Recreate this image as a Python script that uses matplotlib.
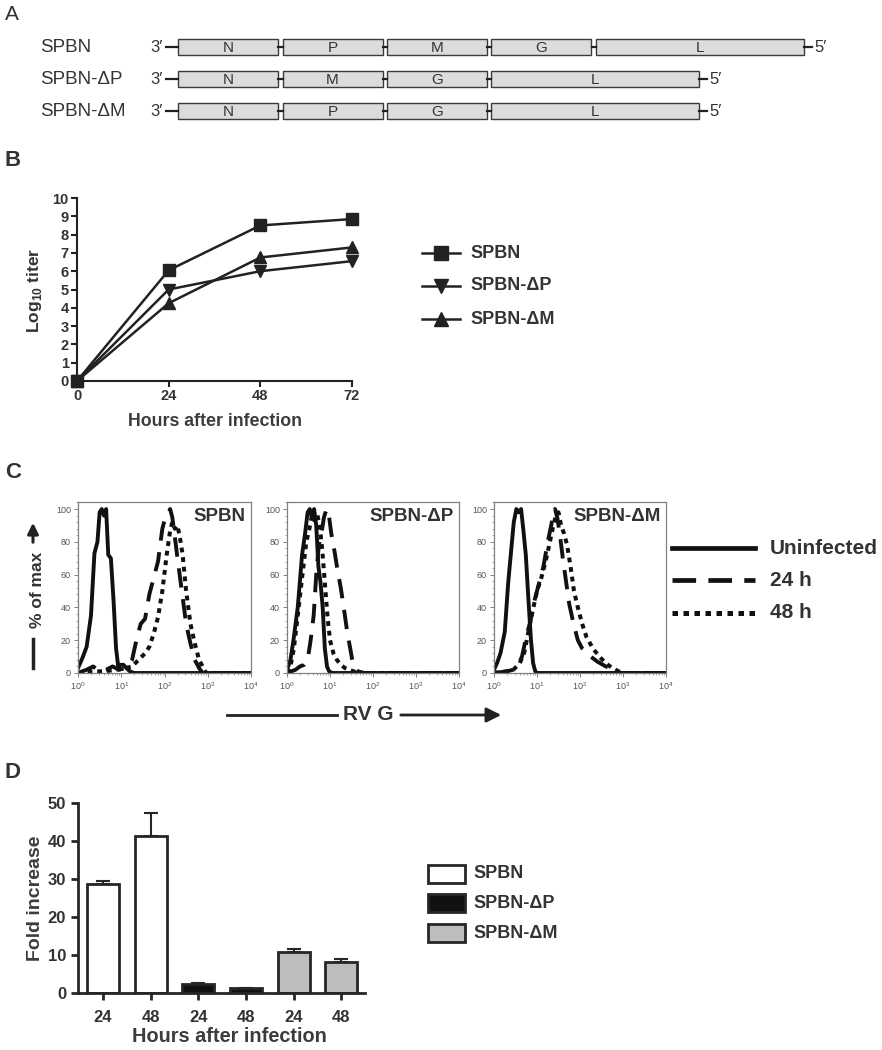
"""Rebuild the four-panel SPBN figure (genome maps, growth curves,
flow histograms and fold-increase bars) as a single PNG."""

import numpy as np
import matplotlib.pyplot as plt
from matplotlib.patches import Rectangle
from matplotlib.ticker import AutoMinorLocator

plt.rcParams['font.family'] = ['Liberation Sans', 'DejaVu Sans']
plt.rcParams['mathtext.fontset'] = 'custom'
plt.rcParams['mathtext.rm'] = 'Liberation Sans'
plt.rcParams['mathtext.bf'] = 'Liberation Sans:bold'

W, H = 882, 1050
INK = '#222222'
TXT = '#333333'

# ---- panel A: genome organisation
constructs = ['SPBN', 'SPBN-\u0394P', 'SPBN-\u0394M']
gene_orders = [['N', 'P', 'M', 'G', 'L'],
               ['N', 'M', 'G', 'L'],
               ['N', 'P', 'G', 'L']]
gene_lengths = {'N': 1.0, 'P': 1.0, 'M': 1.0, 'G': 1.0, 'L': 2.08}

# ---- panel B: growth curves
hours = [0, 24, 48, 72]
titer_spbn = [0, 6.05, 8.5, 8.85]
titer_dp = [0, 5.0, 6.0, 6.55]
titer_dm = [0, 4.25, 6.75, 7.3]

# ---- panel C: flow histograms (log10 fluorescence, % of max)
c1_uninf_x = [0.0, 0.1, 0.2, 0.3, 0.38, 0.45, 0.5, 0.55, 0.6, 0.65, 0.7, 0.76,
              0.82, 0.88, 0.93, 0.98, 1.05, 1.12, 1.2, 1.3, 4.0]
c1_uninf_y = [3, 9, 16, 35, 73, 80, 98, 100, 96, 100, 72, 70, 45, 15, 4, 5, 5,
              3, 1, 0, 0]
c1_24h_x = [0.0, 0.2, 0.35, 0.5, 0.65, 0.8, 0.95, 1.1, 1.25, 1.35, 1.45, 1.55,
            1.65, 1.75, 1.85, 1.95, 2.02, 2.08, 2.13, 2.18, 2.23, 2.3, 2.4,
            2.5, 2.6, 2.7, 2.8, 2.88, 4.0]
c1_24h_y = [0, 2, 4, 1, 2, 4, 2, 3, 8, 20, 30, 33, 48, 58, 68, 88, 95, 97, 100,
            95, 85, 70, 50, 30, 18, 8, 3, 0, 0]
c1_48h_x = [0.0, 0.3, 0.6, 0.9, 1.1, 1.25, 1.4, 1.55, 1.65, 1.75, 1.85, 1.95,
            2.05, 2.12, 2.18, 2.24, 2.3, 2.36, 2.42, 2.5, 2.6, 2.7, 2.8, 2.9,
            2.96, 4.0]
c1_48h_y = [0, 1, 1, 2, 3, 4, 8, 12, 16, 24, 34, 50, 72, 85, 92, 88, 90, 82,
            72, 50, 30, 18, 8, 3, 0, 0]

c2_uninf_x = [0.0, 0.08, 0.15, 0.25, 0.35, 0.42, 0.48, 0.53, 0.58, 0.63, 0.68,
              0.73, 0.78, 0.83, 0.88, 0.93, 0.98, 1.05, 4.0]
c2_uninf_y = [2, 8, 20, 40, 72, 85, 98, 100, 95, 100, 90, 65, 55, 40, 15, 4, 1,
              0, 0]
c2_24h_x = [0.0, 0.2, 0.3, 0.4, 0.48, 0.55, 0.62, 0.68, 0.74, 0.8, 0.86, 0.92,
            0.97, 1.03, 1.1, 1.18, 1.25, 1.32, 1.4, 1.47, 1.53, 1.58, 1.65,
            1.8, 4.0]
c2_24h_y = [0, 2, 4, 5, 8, 20, 35, 60, 78, 85, 95, 100, 97, 85, 75, 62, 52, 40,
            25, 15, 6, 3, 1, 0, 0]
c2_48h_x = [0.0, 0.08, 0.16, 0.25, 0.35, 0.45, 0.52, 0.58, 0.64, 0.7, 0.76,
            0.82, 0.88, 0.94, 1.0, 1.08, 1.16, 1.25, 1.35, 1.45, 1.55, 1.7, 4.0]
c2_48h_y = [0, 4, 15, 35, 58, 80, 88, 96, 93, 97, 90, 75, 55, 35, 20, 12, 8, 5,
            3, 2, 1, 0, 0]

c3_uninf_x = [0.0, 0.07, 0.15, 0.25, 0.33, 0.4, 0.46, 0.52, 0.58, 0.63, 0.68,
              0.74, 0.8, 0.86, 0.91, 0.96, 1.0, 4.0]
c3_uninf_y = [2, 6, 12, 25, 55, 75, 92, 100, 98, 100, 88, 72, 45, 20, 6, 1, 0, 0]
c3_24h_x = [0.0, 0.3, 0.45, 0.55, 0.65, 0.75, 0.85, 0.95, 1.05, 1.15, 1.25,
            1.33, 1.38, 1.42, 1.47, 1.53, 1.6, 1.68, 1.75, 1.85, 1.95, 2.05,
            2.2, 2.4, 2.6, 2.8, 2.95, 4.0]
c3_24h_y = [0, 1, 2, 4, 10, 22, 32, 45, 55, 65, 80, 90, 97, 100, 95, 85, 70,
            55, 42, 30, 20, 15, 11, 7, 4, 2, 0, 0]
c3_48h_x = [0.0, 0.3, 0.45, 0.6, 0.7, 0.8, 0.9, 1.0, 1.1, 1.2, 1.3, 1.38, 1.45,
            1.5, 1.56, 1.63, 1.7, 1.78, 1.86, 1.95, 2.05, 2.15, 2.3, 2.45, 2.6,
            2.75, 2.9, 3.0, 4.0]
c3_48h_y = [0, 1, 2, 6, 12, 25, 38, 50, 58, 68, 80, 90, 97, 98, 90, 85, 78, 65,
            50, 40, 30, 22, 15, 10, 6, 3, 1, 0, 0]

flow_titles = ['SPBN', 'SPBN-\u0394P', 'SPBN-\u0394M']
flow_labels = ['Uninfected', '24 h', '48 h']

# ---- panel D: fold increase
bar_hours = ['24', '48', '24', '48', '24', '48']
fold = [28.8, 41.3, 2.5, 1.2, 10.8, 8.2]
fold_err = [0.6, 6.2, 0.2, 0.15, 0.8, 0.8]
virus_colors = ['white', '#111111', '#bdbdbd']


def px_axes(fig, x0, y0, x1, y1):
    """Add an Axes given pixel corners measured from the top-left."""
    return fig.add_axes([x0 / W, 1 - y1 / H, (x1 - x0) / W, (y1 - y0) / H])


def plot_genomes(ax):
    """Draw the three genome maps as rows of gene boxes."""
    gap = 0.045
    ax.set_xlim(-1.78, (W - 178) / 100)
    ax.set_ylim(2.5, -0.5)
    ax.axis('off')
    for row, (name, genes) in enumerate(zip(constructs, gene_orders)):
        ax.text(-1.38, row, name, ha='left', va='center', fontsize=13.5,
                color=TXT)
        ax.text(-0.15, row, '3\u2032', ha='right', va='center', fontsize=12,
                color=TXT)
        ax.plot([-0.12, 0], [row, row], color=INK, lw=1.6)
        x = 0.0
        for g in genes:
            length = gene_lengths[g]
            ax.add_patch(Rectangle((x, row - 0.25), length, 0.5,
                                   facecolor='#dcdcdc', edgecolor='#3a3a3a',
                                   lw=1.0))
            ax.text(x + length / 2, row + 0.02, g, ha='center', va='center',
                    fontsize=11, color=TXT)
            x += length
            if g != genes[-1]:
                ax.plot([x, x + gap], [row, row], color=INK, lw=1.6)
                x += gap
        ax.plot([x, x + 0.08], [row, row], color=INK, lw=1.6)
        ax.text(x + 0.1, row, '5\u2032', ha='left', va='center', fontsize=12,
                color=TXT)


def plot_growth(ax):
    """Draw the multi-step growth curves."""
    for vals, mk in [(titer_spbn, 's'), (titer_dp, 'v'), (titer_dm, '^')]:
        ax.plot(hours, vals, color=INK, lw=1.8, marker=mk, ms=9,
                clip_on=False, zorder=3)
    ax.set_xlim(0, 72)
    ax.set_ylim(0, 10)
    ax.set_xticks(hours)
    ax.set_yticks(range(0, 11))
    for s in ['top', 'right']:
        ax.spines[s].set_visible(False)
    for s in ['left', 'bottom']:
        ax.spines[s].set_linewidth(1.5)
        ax.spines[s].set_color(INK)
    ax.tick_params(length=4, width=1.5, color=INK, labelsize=10.5,
                   labelcolor=TXT, pad=2)
    for lab in ax.get_xticklabels() + ax.get_yticklabels():
        lab.set_fontweight('bold')


def plot_flow(ax, curves, title):
    """Draw one flow-cytometry overlay on a log x axis."""
    styles = [dict(ls='-', lw=2.8),
              dict(ls=(0, (5, 3)), lw=2.8),
              dict(ls=(0, (1.2, 1.2)), lw=2.9)]
    for (lx, ly), st in zip(curves, styles):
        ax.plot(10 ** np.array(lx), ly, color='#111111', **st)
    ax.set_xscale('log')
    ax.set_xlim(1, 1e4)
    ax.set_ylim(0, 104.3)
    ax.set_yticks([0, 20, 40, 60, 80, 100])
    ax.yaxis.set_minor_locator(AutoMinorLocator(5))
    for s in ax.spines.values():
        s.set_color('#808080')
        s.set_linewidth(0.9)
    ax.tick_params(which='major', length=3, width=0.7, color='#808080',
                   labelsize=6.5, labelcolor='#555555', pad=2)
    ax.tick_params(which='minor', length=1.5, width=0.5, color='#808080')
    ax.text(0.97, 0.965, title, transform=ax.transAxes, ha='right', va='top',
            fontsize=13.5, fontweight='bold', color=TXT)


def plot_bars(ax):
    """Draw the fold-increase bars with upward error bars."""
    pos = np.arange(len(fold))
    colors = [virus_colors[i // 2] for i in range(len(fold))]
    ax.bar(pos, fold, width=0.67, color=colors, edgecolor='#262626', lw=2,
           zorder=2)
    ax.errorbar(pos, fold, yerr=[np.zeros(len(fold)), fold_err], fmt='none',
                ecolor='#262626', elinewidth=1.5, capsize=5, capthick=1.5,
                zorder=1)
    ax.set_xlim(-0.525, 5.5)
    ax.set_ylim(0, 50)
    ax.set_xticks(pos)
    ax.set_xticklabels(bar_hours)
    ax.set_yticks(range(0, 51, 10))
    for s in ['top', 'right']:
        ax.spines[s].set_visible(False)
    for s in ['left', 'bottom']:
        ax.spines[s].set_linewidth(2)
        ax.spines[s].set_color('#262626')
    ax.tick_params(length=5, width=2, color='#262626', labelsize=12,
                   labelcolor=TXT)
    ax.tick_params(axis='x', pad=7)
    for lab in ax.get_xticklabels() + ax.get_yticklabels():
        lab.set_fontweight('bold')


def main():
    fig = plt.figure(figsize=(W / 100, H / 100), dpi=100)

    ov = px_axes(fig, 0, 0, W, H)
    ov.set_xlim(0, W)
    ov.set_ylim(H, 0)
    ov.axis('off')

    # panel letters
    ov.text(5, 14, 'A', fontsize=15, color=TXT, va='center')
    for letter, y in [('B', 160), ('C', 472), ('D', 773)]:
        ov.text(5, y, letter, fontsize=16, fontweight='bold', color=TXT,
                va='center')

    # A
    plot_genomes(px_axes(fig, 0, 31, W, 127))

    # B
    ax_b = px_axes(fig, 77, 198, 352, 381)
    plot_growth(ax_b)
    ov.text(35, 290, r'Log$_{\mathbf{10}}$ titer', rotation=90, ha='center',
            va='center', fontsize=12.5, fontweight='bold', color=TXT)
    ov.text(215, 421, 'Hours after infection', ha='center', va='center',
            fontsize=12.8, fontweight='bold', color='#3c3c3c')
    for y, mk, lab in [(253, 's', 'SPBN'), (286, 'v', constructs[1]),
                       (319, '^', constructs[2])]:
        ov.plot([422, 460], [y, y], color=INK, lw=1.8)
        ov.plot(441, y, marker=mk, ms=10, color=INK)
        ov.text(470, y, lab, ha='left', va='center', fontsize=13,
                fontweight='bold', color=TXT)

    # C
    flow_sets = [
        [(c1_uninf_x, c1_uninf_y), (c1_24h_x, c1_24h_y), (c1_48h_x, c1_48h_y)],
        [(c2_uninf_x, c2_uninf_y), (c2_24h_x, c2_24h_y), (c2_48h_x, c2_48h_y)],
        [(c3_uninf_x, c3_uninf_y), (c3_24h_x, c3_24h_y), (c3_48h_x, c3_48h_y)],
    ]
    for (x0, x1), curves, title in zip([(78, 251), (287, 459), (494, 666)],
                                       flow_sets, flow_titles):
        plot_flow(px_axes(fig, x0, 502, x1, 673), curves, title)

    ov.text(37, 590, '% of max', rotation=90, ha='center', va='center',
            fontsize=12.5, fontweight='bold', color=TXT)
    ov.annotate('', xy=(33, 520), xytext=(33, 545),
                arrowprops=dict(arrowstyle='-|>', lw=2.2, color=INK,
                                mutation_scale=16))
    ov.plot([33, 33], [639, 668], color=INK, lw=2.5)
    ov.plot([227, 337], [715, 715], color=INK, lw=2)
    ov.text(368, 715, 'RV G', ha='center', va='center', fontsize=15,
            fontweight='bold', color=TXT)
    ov.annotate('', xy=(504, 715), xytext=(398, 715),
                arrowprops=dict(arrowstyle='-|>', lw=2, color=INK,
                                mutation_scale=22))

    leg_styles = [dict(ls='-', lw=3.4),
                  dict(ls=(0, (5, 2.6)), lw=3.4),
                  dict(ls=(0, (1.1, 1.1)), lw=3.6)]
    for y, st, lab in zip([548, 580, 613], leg_styles, flow_labels):
        ov.plot([672, 755], [y, y], color='#111111', **st)
        ov.text(770, y, lab, ha='left', va='center', fontsize=15,
                fontweight='bold', color=TXT)

    # D
    ax_d = px_axes(fig, 78, 803, 365, 993)
    plot_bars(ax_d)
    ov.text(35, 898, 'Fold increase', rotation=90, ha='center', va='center',
            fontsize=14, fontweight='bold', color='#3c3c3c')
    ov.text(229, 1037, 'Hours after infection', ha='center', va='center',
            fontsize=14.3, fontweight='bold', color='#3c3c3c')
    for y, col, lab in zip([874, 903, 933], virus_colors, constructs):
        ov.add_patch(Rectangle((428, y - 9), 37, 18, facecolor=col,
                               edgecolor='#262626', lw=2))
        ov.text(473, y, lab, ha='left', va='center', fontsize=13,
                fontweight='bold', color=TXT)

    fig.savefig('out.png', dpi=100)


if __name__ == '__main__':
    main()
